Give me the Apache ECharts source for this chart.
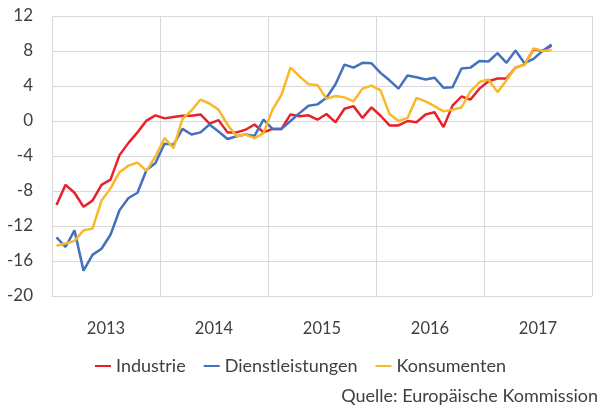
<!DOCTYPE html>
<html lang="de">
<head>
    <meta charset="UTF-8">
    <title>Stimmung</title>
    <style>
        body{ margin:0; background:#ffffff; }
        #chart{ width:601px; height:407px; }
    </style>
</head>
<body>
<div id="chart"></div>
<script src="https://cdn.jsdelivr.net/npm/echarts@6/dist/echarts.min.js"></script>
<script>
    var years = ['2013', '2014', '2015', '2016', '2017'];
    var yTicks = [-20, -16, -12, -8, -4, 0, 4, 8, 12];

    // monatlich ab Jan 2013
    var industrie = [-9.6, -7.3, -8.2, -9.8, -9.1, -7.3, -6.7, -3.9, -2.5, -1.3,
        0.05, 0.65, 0.3, 0.45, 0.6, 0.6, 0.75, -0.3, 0.1, -1.3,
        -1.3, -1.0, -0.4, -1.3, -0.9, -0.9, 0.75, 0.55, 0.65, 0.15,
        0.8, -0.15, 1.4, 1.7, 0.35, 1.55, 0.6, -0.5, -0.5, 0,
        -0.15, 0.75, 1.0, -0.7, 1.75, 2.8, 2.45, 3.7, 4.55, 4.85,
        4.85, 6.1, 6.45, 8.2, 8.0, 8.6];
    var dienst = [-13.3, -14.4, -12.5, -17.1, -15.3, -14.6, -13.0, -10.2, -8.8, -8.2,
        -5.6, -4.8, -2.6, -2.7, -0.9, -1.55, -1.3, -0.4, -1.2, -2.05,
        -1.75, -1.55, -1.7, 0.15, -0.9, -0.9, 0, 0.9, 1.75, 1.9,
        2.65, 4.2, 6.45, 6.1, 6.65, 6.6, 5.5, 4.65, 3.7, 5.2,
        5.0, 4.75, 4.95, 3.8, 3.85, 6.0, 6.1, 6.85, 6.8, 7.75,
        6.65, 8.05, 6.6, 7.1, 8.0, 8.75];
    var konsum = [-14.25, -14.0, -13.7, -12.5, -12.3, -9.1, -7.7, -5.85, -5.1, -4.75,
        -5.7, -4.05, -1.95, -3.1, 0.25, 1.2, 2.45, 2.0, 1.3, -0.4,
        -1.75, -1.55, -1.95, -1.4, 1.3, 3.0, 6.1, 5.1, 4.2, 4.1,
        2.55, 2.85, 2.7, 2.25, 3.7, 4.05, 3.5, 0.8, 0, 0.35,
        2.65, 2.25, 1.7, 1.1, 1.3, 1.55, 3.4, 4.45, 4.75, 3.3,
        4.65, 6.15, 6.4, 8.3, 8.0, 8.1];

    var months = [];
    years.forEach(function (y) {
        for (var m = 1; m <= 12; m++) {
            months.push(y + '-' + (m < 10 ? '0' + m : m));
        }
    });

    var font = 'Lato';
    var grey = '#d9d9d9';
    var textCol = '#404040';

    var chart = echarts.init(document.getElementById('chart'));
    var option = {
        animation: false,
        textStyle: { fontFamily: font },
        color: ['#e8212a', '#4470c0', '#f8b928'],
        grid: { left: 52, right: 9, top: 16, bottom: 111 },
        legend: {
            left: 'center',
            top: 352,
            icon: 'rect',
            itemWidth: 16,
            itemHeight: 2,
            itemGap: 18,
            textStyle: { fontSize: 18, color: textCol, fontFamily: font },
            data: ['Industrie', 'Dienstleistungen', 'Konsumenten']
        },
        graphic: [{
            type: 'text',
            right: 3,
            top: 387,
            style: { text: 'Quelle: Europäische Kommission', fontSize: 18, fill: textCol, fontFamily: font }
        }],
        xAxis: [{
            type: 'category',
            data: months,
            axisLine: { onZero: true, lineStyle: { color: grey } },
            axisTick: { interval: 0, length: 6, lineStyle: { color: grey } },
            axisLabel: { show: false },
            splitLine: { show: false }
        }, {
            type: 'category',
            data: months,
            position: 'bottom',
            axisLine: { onZero: false, lineStyle: { color: grey } },
            axisTick: { interval: 0, length: 12, lineStyle: { color: grey } },
            axisLabel: { show: false }
        }, {
            type: 'category',
            data: years,
            position: 'bottom',
            axisLine: { show: false, onZero: false },
            axisTick: { length: 42, lineStyle: { color: grey } },
            axisLabel: { margin: 24, fontSize: 16.5, color: textCol, fontFamily: font },
            splitLine: { show: true, lineStyle: { color: grey } }
        }],
        yAxis: {
            type: 'value',
            min: yTicks[0],
            max: yTicks[yTicks.length - 1],
            interval: 4,
            axisLine: { show: false },
            axisTick: { show: false },
            axisLabel: { margin: 19, fontSize: 17, color: textCol, fontFamily: font },
            splitLine: { lineStyle: { color: grey } }
        },
        series: [
            { name: 'Industrie', type: 'line', data: industrie, symbol: 'none', lineStyle: { width: 2.5 } },
            { name: 'Dienstleistungen', type: 'line', data: dienst, symbol: 'none', lineStyle: { width: 2.5 } },
            { name: 'Konsumenten', type: 'line', data: konsum, symbol: 'none', lineStyle: { width: 2.5 } }
        ]
    };
    chart.setOption(option);
</script>
</body>
</html>
